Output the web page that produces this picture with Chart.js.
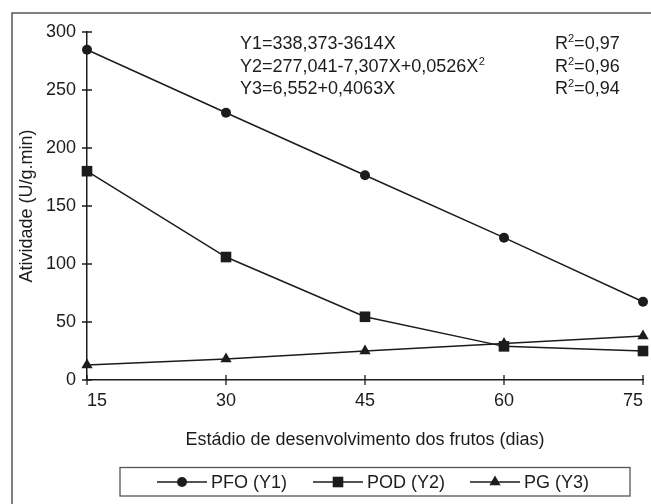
<!DOCTYPE html>
<html>
<head>
<meta charset="utf-8">
<script src="https://cdn.jsdelivr.net/npm/chart.js@4/dist/chart.umd.min.js"></script>
<style>
  html, body { margin: 0; padding: 0; background: #fff; }
  #wrap { width: 651px; height: 504px; }
</style>
</head>
<body>
<div id="wrap"><canvas id="chart" width="651" height="504"></canvas></div>
<script>
// DATA
const days = [15, 30, 45, 60, 75];
const pfo = [284.7, 230.4, 176.5, 122.7, 67.5];
const pod = [180, 106, 54.5, 29, 25];
const pg = [13, 18, 25, 31.5, 38];

const seriesNames = ['PFO (Y1)', 'POD (Y2)', 'PG (Y3)'];
const equations = [
  ['Y1=338,373-3614X', '', 'R', '=0,97'],
  ['Y2=277,041-7,307X+0,0526X', '2', 'R', '=0,96'],
  ['Y3=6,552+0,4063X', '', 'R', '=0,94']
];

const ink = '#1c1c1c';
const font = '"Liberation Sans", Arial, sans-serif';
const fs = 18;

function pts(vals) {
  return days.map((d, i) => ({ x: d, y: vals[i] }));
}

function marker(ctx, style, x, y) {
  ctx.beginPath();
  if (style === 'circle') {
    ctx.arc(x, y, 5, 0, Math.PI * 2);
  } else if (style === 'rect') {
    ctx.rect(x - 5.3, y - 5.3, 10.6, 10.6);
  } else {
    const r = 6.5;
    ctx.moveTo(x, y - r);
    ctx.lineTo(x + r * 0.866, y + r / 2);
    ctx.lineTo(x - r * 0.866, y + r / 2);
    ctx.closePath();
  }
  ctx.fill();
}

// frame, crossing ticks, equations and legend box
const decor = {
  id: 'decor',
  beforeDraw(chart) {
    const ctx = chart.ctx;
    ctx.save();
    ctx.strokeStyle = '#555';
    ctx.lineWidth = 1.5;
    ctx.beginPath();
    ctx.moveTo(12, 504);
    ctx.lineTo(12, 13);
    ctx.lineTo(651, 13);
    ctx.stroke();
    ctx.restore();
  },
  afterDatasetsDraw(chart) {
    const ctx = chart.ctx;
    const xs = chart.scales.x, ys = chart.scales.y;
    ctx.save();
    ctx.strokeStyle = ink;
    ctx.lineWidth = 1.3;
    ctx.beginPath();
    ys.ticks.forEach(t => {
      const py = ys.getPixelForValue(t.value);
      ctx.moveTo(xs.left - 5, py);
      ctx.lineTo(xs.left + 5, py);
    });
    xs.ticks.forEach(t => {
      const px = xs.getPixelForValue(t.value);
      ctx.moveTo(px, ys.bottom - 5);
      ctx.lineTo(px, ys.bottom + 5);
    });
    ctx.stroke();

    // equations
    ctx.fillStyle = ink;
    ctx.textBaseline = 'middle';
    ctx.textAlign = 'left';
    const rowY = [44, 67, 89];
    equations.forEach((e, i) => {
      ctx.font = fs + 'px ' + font;
      ctx.fillText(e[0], 240, rowY[i]);
      if (e[1]) {
        const w = ctx.measureText(e[0]).width;
        ctx.font = '11px ' + font;
        ctx.fillText(e[1], 240 + w + 0.5, rowY[i] - 5);
      }
      ctx.font = fs + 'px ' + font;
      ctx.fillText(e[2], 555, rowY[i]);
      const rw = ctx.measureText(e[2]).width;
      ctx.font = '11px ' + font;
      ctx.fillText('2', 555 + rw, rowY[i] - 5);
      const sw = ctx.measureText('2').width;
      ctx.font = fs + 'px ' + font;
      ctx.fillText(e[3], 555 + rw + sw, rowY[i]);
    });

    // legend box
    ctx.strokeStyle = '#555';
    ctx.lineWidth = 1.3;
    ctx.strokeRect(120, 467.5, 510, 28.5);
    const lx = [157, 313, 470];
    const ly = 482;
    chart.data.datasets.forEach((ds, i) => {
      ctx.strokeStyle = ink;
      ctx.lineWidth = 1.5;
      ctx.beginPath();
      ctx.moveTo(lx[i], ly);
      ctx.lineTo(lx[i] + 50, ly);
      ctx.stroke();
      ctx.fillStyle = ink;
      marker(ctx, ds.pointStyle, lx[i] + 25, ly);
      ctx.font = fs + 'px ' + font;
      ctx.fillText(ds.label, lx[i] + 54, ly + 1);
    });
    ctx.restore();
  }
};

const common = {
  borderColor: ink,
  backgroundColor: ink,
  pointBackgroundColor: ink,
  pointBorderColor: ink,
  borderWidth: 1.5,
  pointBorderWidth: 0,
  tension: 0,
  clip: false
};

new Chart(document.getElementById('chart'), {
  type: 'line',
  data: {
    datasets: [
      { ...common, label: seriesNames[0], data: pts(pfo), pointStyle: 'circle', pointRadius: 5 },
      { ...common, label: seriesNames[1], data: pts(pod), pointStyle: 'rect', pointRadius: 7.5 },
      { ...common, label: seriesNames[2], data: pts(pg), pointStyle: 'triangle', pointRadius: 6.5 }
    ]
  },
  options: {
    responsive: false,
    animation: false,
    layout: { padding: { top: 32, right: 8, left: 0, bottom: 0 } },
    plugins: {
      legend: { display: false },
      tooltip: { enabled: false }
    },
    scales: {
      x: {
        type: 'linear',
        min: 15,
        max: 75,
        grid: { display: false, drawTicks: false },
        border: { display: true, color: ink, width: 1.5 },
        ticks: { stepSize: 15, padding: 10, align: 'inner', color: ink, font: { family: font, size: fs }, maxRotation: 0 },
        title: {
          display: true,
          text: 'Estádio de desenvolvimento dos frutos (dias)',
          color: ink,
          font: { family: font, size: fs },
          padding: { top: 0, bottom: 53 }
        },
        afterFit(s) { s.height = 124; s.paddingLeft = 0; s.paddingRight = 0; }
      },
      y: {
        min: 0,
        max: 300,
        grid: { display: false, drawTicks: false },
        border: { display: true, color: ink, width: 1.5 },
        ticks: { stepSize: 50, padding: 11, color: ink, font: { family: font, size: fs } },
        title: {
          display: true,
          text: 'Atividade (U/g.min)',
          color: ink,
          font: { family: font, size: fs },
          padding: { top: 16, bottom: 0 }
        },
        afterFit(s) { s.width = 87; s.paddingTop = 0; s.paddingBottom = 0; }
      }
    }
  },
  plugins: [decor]
});
</script>
</body>
</html>
